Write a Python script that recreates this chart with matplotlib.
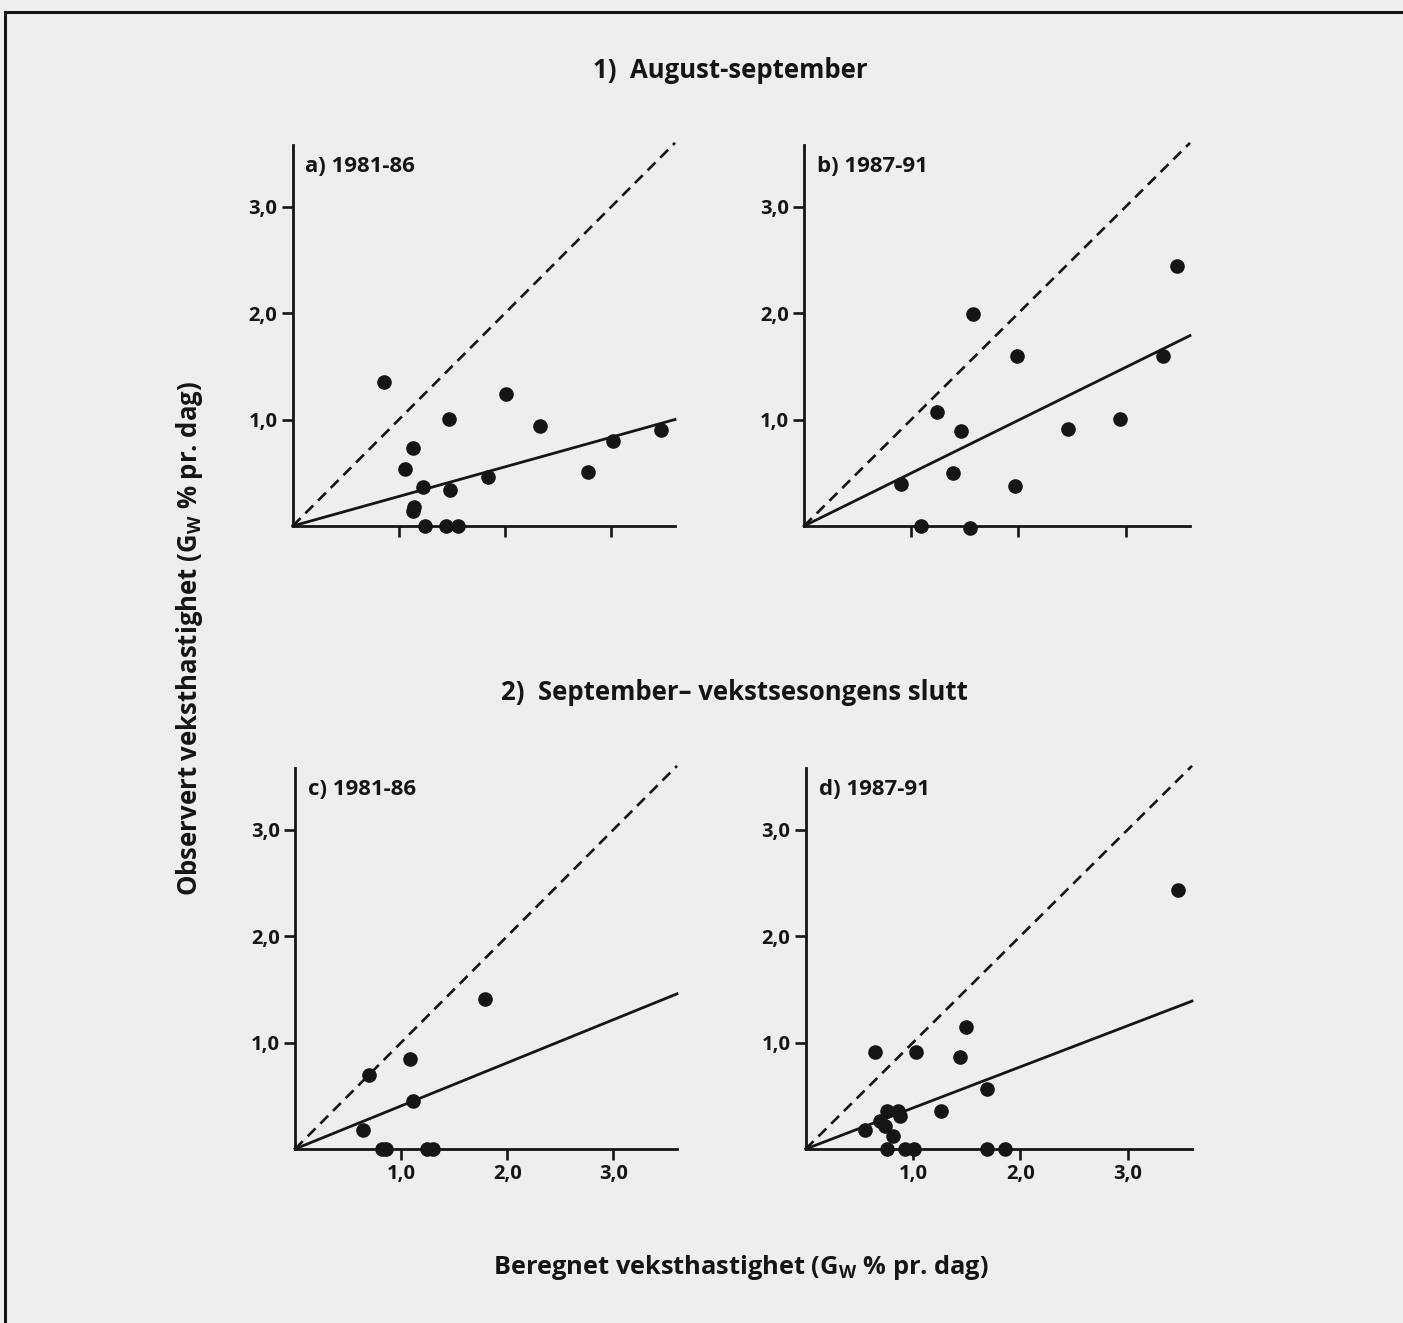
import matplotlib
matplotlib.use("Agg")
import matplotlib.pyplot as plt
from matplotlib.lines import Line2D

plt.rcParams['font.family'] = ['Open Sans', 'DejaVu Sans']

# Observed vs calculated growth rate (Gw % pr. dag)
a_x = [0.86, 1.13, 1.06, 1.23, 1.14, 1.13, 1.25, 1.44, 1.56, 1.47, 1.48, 1.84, 2.01, 2.33, 2.78, 3.02, 3.47]
a_y = [1.35, 0.73, 0.54, 0.37, 0.18, 0.14, 0.00, 0.00, 0.00, 1.01, 0.34, 0.46, 1.24, 0.94, 0.51, 0.80, 0.90]

b_x = [0.90, 1.09, 1.24, 1.39, 1.46, 1.55, 1.58, 1.99, 1.97, 2.46, 2.95, 3.35, 3.48]
b_y = [0.39, 0.00, 1.07, 0.50, 0.89, -0.02, 1.99, 1.60, 0.38, 0.91, 1.01, 1.60, 2.44]

c_x = [0.70, 0.64, 1.08, 1.11, 1.79, 0.82, 0.86, 1.24, 1.30]
c_y = [0.70, 0.18, 0.85, 0.45, 1.41, 0.00, 0.00, 0.00, 0.00]

d_x = [0.65, 1.03, 1.49, 1.44, 1.69, 1.26, 0.76, 0.86, 0.88, 0.69, 0.74, 0.55, 0.81, 3.47,
       0.76, 0.93, 1.01, 1.69, 1.86]
d_y = [0.91, 0.91, 1.15, 0.86, 0.56, 0.36, 0.36, 0.36, 0.31, 0.26, 0.22, 0.18, 0.12, 2.43,
       0.00, 0.00, 0.00, 0.00, 0.00]

# slopes of fitted lines through origin
slopes = [0.278, 0.497, 0.405, 0.386]
panel_titles = ["a) 1981-86", "b) 1987-91", "c) 1981-86", "d) 1987-91"]
tick_vals = [1.0, 2.0, 3.0]
tick_labels = ["1,0", "2,0", "3,0"]

bg = "#eeeeee"
ink = "#151515"

fig = plt.figure(figsize=(14.03, 13.23), dpi=100, facecolor=bg)

# axes boxes in pixels: (origin x, origin y, right x)
boxes = [(292.7, 526, 675), (804, 526, 1190), (295, 1149, 677), (805.7, 1149, 1192)]
data = [(a_x, a_y), (b_x, b_y), (c_x, c_y), (d_x, d_y)]

W, H = 1403, 1323
for i, ((ox, oy, rx), (xs, ys)) in enumerate(zip(boxes, data)):
    w = rx - ox
    h = 381
    ax = fig.add_axes([ox / W, 1 - oy / H, w / W, h / H])
    ax.set_facecolor("none")
    ax.set_xlim(0, 3.6)
    ax.set_ylim(0, 3.58)
    for s in ["top", "right"]:
        ax.spines[s].set_visible(False)
    for s in ["left", "bottom"]:
        ax.spines[s].set_linewidth(2.0)
        ax.spines[s].set_color(ink)
    ax.set_yticks(tick_vals)
    ax.set_yticklabels(tick_labels)
    ax.set_xticks(tick_vals)
    if i >= 2:
        ax.set_xticklabels(tick_labels)
    else:
        ax.set_xticklabels([])
    ax.tick_params(length=8, width=1.9, color=ink, labelsize=14.5, pad=3)
    for lab in ax.get_xticklabels() + ax.get_yticklabels():
        lab.set_fontweight("bold")
        lab.set_color(ink)

    ax.plot([0, 3.6], [0, 3.6], ls=(0, (4.2, 2.6)), lw=1.9, color=ink, clip_on=False)
    ax.plot([0, 3.6], [0, slopes[i] * 3.6], lw=2.0, color=ink, clip_on=False)
    ax.plot(xs, ys, "o", ms=9.5, color=ink, clip_on=False, zorder=5)
    ax.text(0.12, 3.38, panel_titles[i], fontsize=16, fontweight="bold", color=ink, va="center")

fig.text(730 / W, 1 - 71 / H, "1)  August-september", ha="center", va="center",
         fontsize=18.5, fontweight="bold", color=ink)
fig.text(734 / W, 1 - 693 / H, "2)  September\u2013 vekstsesongens slutt", ha="center", va="center",
         fontsize=18.5, fontweight="bold", color=ink)
fig.text(741 / W, 1 - 1268 / H, "Beregnet veksthastighet (G$_\\mathregular{W}$ % pr. dag)",
         ha="center", va="center", fontsize=18.3, fontweight="bold", color=ink)
fig.text(190 / W, 1 - 638 / H, "Observert veksthastighet (G$_\\mathregular{W}$ % pr. dag)",
         ha="center", va="center", rotation=90, fontsize=18.5, fontweight="bold", color=ink)

# page frame
fig.add_artist(Line2D([5 / W, 1], [1 - 12 / H, 1 - 12 / H], transform=fig.transFigure, lw=2.2, color=ink))
fig.add_artist(Line2D([5 / W, 5 / W], [0, 1 - 12 / H], transform=fig.transFigure, lw=2.2, color=ink))

fig.savefig("out.png", dpi=100, facecolor=bg)
